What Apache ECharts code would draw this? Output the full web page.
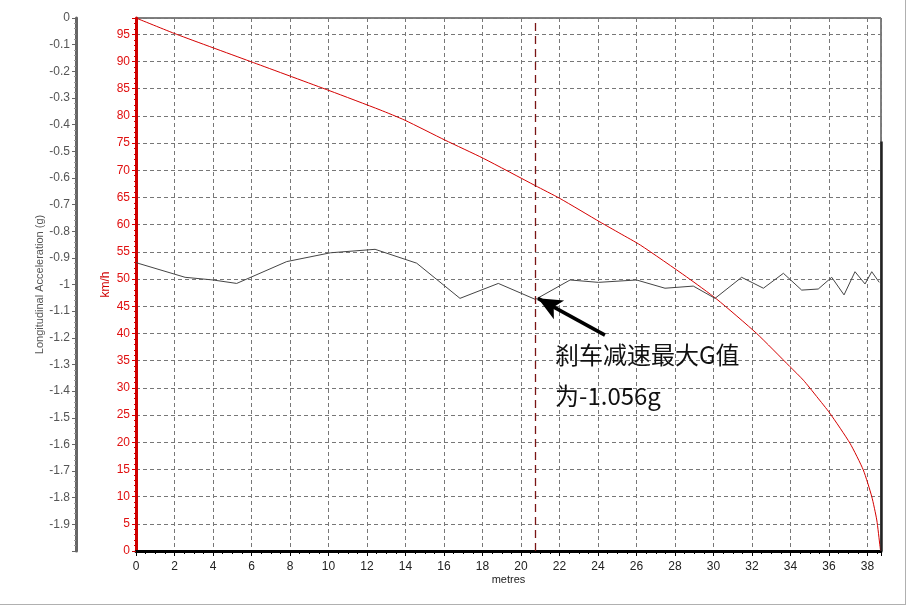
<!DOCTYPE html>
<html>
<head>
<meta charset="utf-8">
<script src="https://cdn.jsdelivr.net/npm/echarts@6/dist/echarts.min.js"></script>
<style>
html,body{margin:0;padding:0;background:#fff;}
#chart{width:905px;height:604px;border-right:1px solid #b0b0b0;border-bottom:1px solid #b0b0b0;}
</style>
</head>
<body>
<div id="chart"></div>
<script>
// distance (metres) and speed (km/h)
const speedDistance = [0, 2.11, 6.1, 10.08, 12.68, 13.97, 16.05, 18.04, 20.73, 22.03, 24.1, 25.14, 26.2, 28.6, 30.17, 32.24, 33.97, 34.67, 35.36, 36.05, 37.09, 37.78, 38.22, 38.48, 38.65, 38.68];
const speedKmh = [98, 95.0, 89.8, 84.6, 81.1, 79.2, 75.55, 72.2, 67.2, 64.8, 60.5, 58.4, 56.25, 50.4, 46.3, 40.0, 33.9, 31.4, 28.4, 25.3, 19.8, 14.9, 10.0, 5.7, 0.8, 0];
// distance (metres) and longitudinal acceleration (g)
const accDistance = [0, 2.55, 4.0, 5.23, 7.83, 10.1, 12.42, 14.58, 16.83, 18.82, 20.75, 22.55, 24.02, 26.0, 27.48, 28.95, 30.08, 31.46, 32.59, 33.63, 34.58, 35.44, 36.14, 36.78, 37.35, 37.87, 38.22, 38.61];
const accG = [-0.918, -0.973, -0.983, -0.996, -0.914, -0.881, -0.868, -0.920, -1.052, -0.996, -1.056, -0.983, -0.992, -0.983, -1.014, -1.006, -1.052, -0.973, -1.014, -0.958, -1.021, -1.017, -0.973, -1.039, -0.952, -0.998, -0.952, -0.992];
// annotation
const peakDistance = 20.75;
const peakG = -1.056;
const noteLines = ['刹车减速最大G值', '为-1.056g'];
const xName = 'metres';
const speedName = 'km/h';
const accName = 'Longitudinal Acceleration (g)';

const font = 'Liberation Sans, Arial, sans-serif';
const chart = echarts.init(document.getElementById('chart'));
const option = {
  animation: false,
  grid: {left: 136, right: 24, top: 18, bottom: 53, show: true, borderColor: '#000', borderWidth: 1, backgroundColor: '#fff'},
  xAxis: {
    type: 'value', min: 0, max: 38.7, interval: 2,
    name: xName, nameLocation: 'middle', nameGap: 23, nameMoveOverlap: false,
    nameTextStyle: {color: '#222', fontSize: 11, fontFamily: font},
    axisLine: {show: true, onZero: false, lineStyle: {color: '#000', width: 3}},
    axisTick: {show: true, length: 5, lineStyle: {color: '#000'}},
    minorTick: {show: true, splitNumber: 4, length: 3, lineStyle: {color: '#000'}},
    axisLabel: {color: '#222', fontSize: 12, fontFamily: font, showMaxLabel: false, margin: 10},
    splitLine: {show: true, lineStyle: {color: '#777', type: [4, 3], width: 1}}
  },
  yAxis: [
    {
      type: 'value', min: 0, max: 98, interval: 5, position: 'left',
      name: speedName, nameLocation: 'middle', nameGap: 24, nameRotate: 90, nameMoveOverlap: false,
      nameTextStyle: {color: '#d00000', fontSize: 12, fontFamily: font},
      axisLine: {show: true, lineStyle: {color: '#d00000', width: 3}},
      axisTick: {show: true, length: 4, lineStyle: {color: '#d00000'}},
      minorTick: {show: true, splitNumber: 5, length: 2, lineStyle: {color: '#d00000'}},
      axisLabel: {color: '#e01010', fontSize: 12, fontFamily: font, showMaxLabel: false, margin: 6},
      splitLine: {show: true, lineStyle: {color: '#777', type: [4, 3], width: 1}}
    },
    {
      type: 'value', min: -2, max: 0, interval: 0.1, position: 'left', offset: 60,
      name: accName, nameLocation: 'middle', nameGap: 31, nameRotate: 90, nameMoveOverlap: false,
      nameTextStyle: {color: '#555', fontSize: 11, fontFamily: font},
      axisLine: {show: true, lineStyle: {color: '#666', width: 3}},
      axisTick: {show: true, length: 4, lineStyle: {color: '#666'}},
      minorTick: {show: true, splitNumber: 5, length: 2, lineStyle: {color: '#999'}},
      axisLabel: {color: '#555', fontSize: 12, fontFamily: font, showMinLabel: false, margin: 6,
        formatter: v => (Math.round(v * 10) / 10).toString()},
      splitLine: {show: false}
    }
  ],
  series: [
    {
      type: 'line', yAxisIndex: 0, showSymbol: false, symbol: 'none', smooth: 0.2,
      data: speedDistance.map((d, i) => [d, speedKmh[i]]),
      lineStyle: {color: '#d40000', width: 1}, z: 3,
      markLine: {
        silent: true, symbol: 'none', label: {show: false},
        data: [
          [{coord: [peakDistance, 0], lineStyle: {color: '#7a1515', width: 1.3, type: [8, 5]}}, {coord: [peakDistance, 98]}],
          [{coord: [38.7, 75.3], lineStyle: {color: '#222', width: 2.5, type: 'solid'}}, {coord: [38.7, 0]}]
        ]
      }
    },
    {
      type: 'line', yAxisIndex: 1, showSymbol: false, symbol: 'none',
      data: accDistance.map((d, i) => [d, accG[i]]),
      lineStyle: {color: '#444', width: 1}, z: 4,
      markLine: {
        silent: true, symbol: ['none', 'arrow'], symbolSize: [16, 24], label: {show: false},
        lineStyle: {color: '#000', width: 3.5, type: 'solid'},
        data: [[{coord: [24.36, -1.19]}, {coord: [peakDistance + 0.13, peakG + 0.004]}]]
      }
    }
  ]
};
chart.setOption(option);
const p1 = chart.convertToPixel({xAxisIndex: 0, yAxisIndex: 0}, [21.77, 36.0]);
const p2 = chart.convertToPixel({xAxisIndex: 0, yAxisIndex: 0}, [21.77, 28.5]);
chart.setOption({
  graphic: [
    {type: 'text', x: p1[0], y: p1[1], z: 100, style: {text: noteLines[0], fill: '#111', font: '24px "Noto Sans CJK SC"', textVerticalAlign: 'middle'}},
    {type: 'text', x: p2[0], y: p2[1], z: 100, style: {text: noteLines[1], fill: '#111', font: '24px "Noto Sans CJK SC"', textVerticalAlign: 'middle'}}
  ]
});
</script>
</body>
</html>
